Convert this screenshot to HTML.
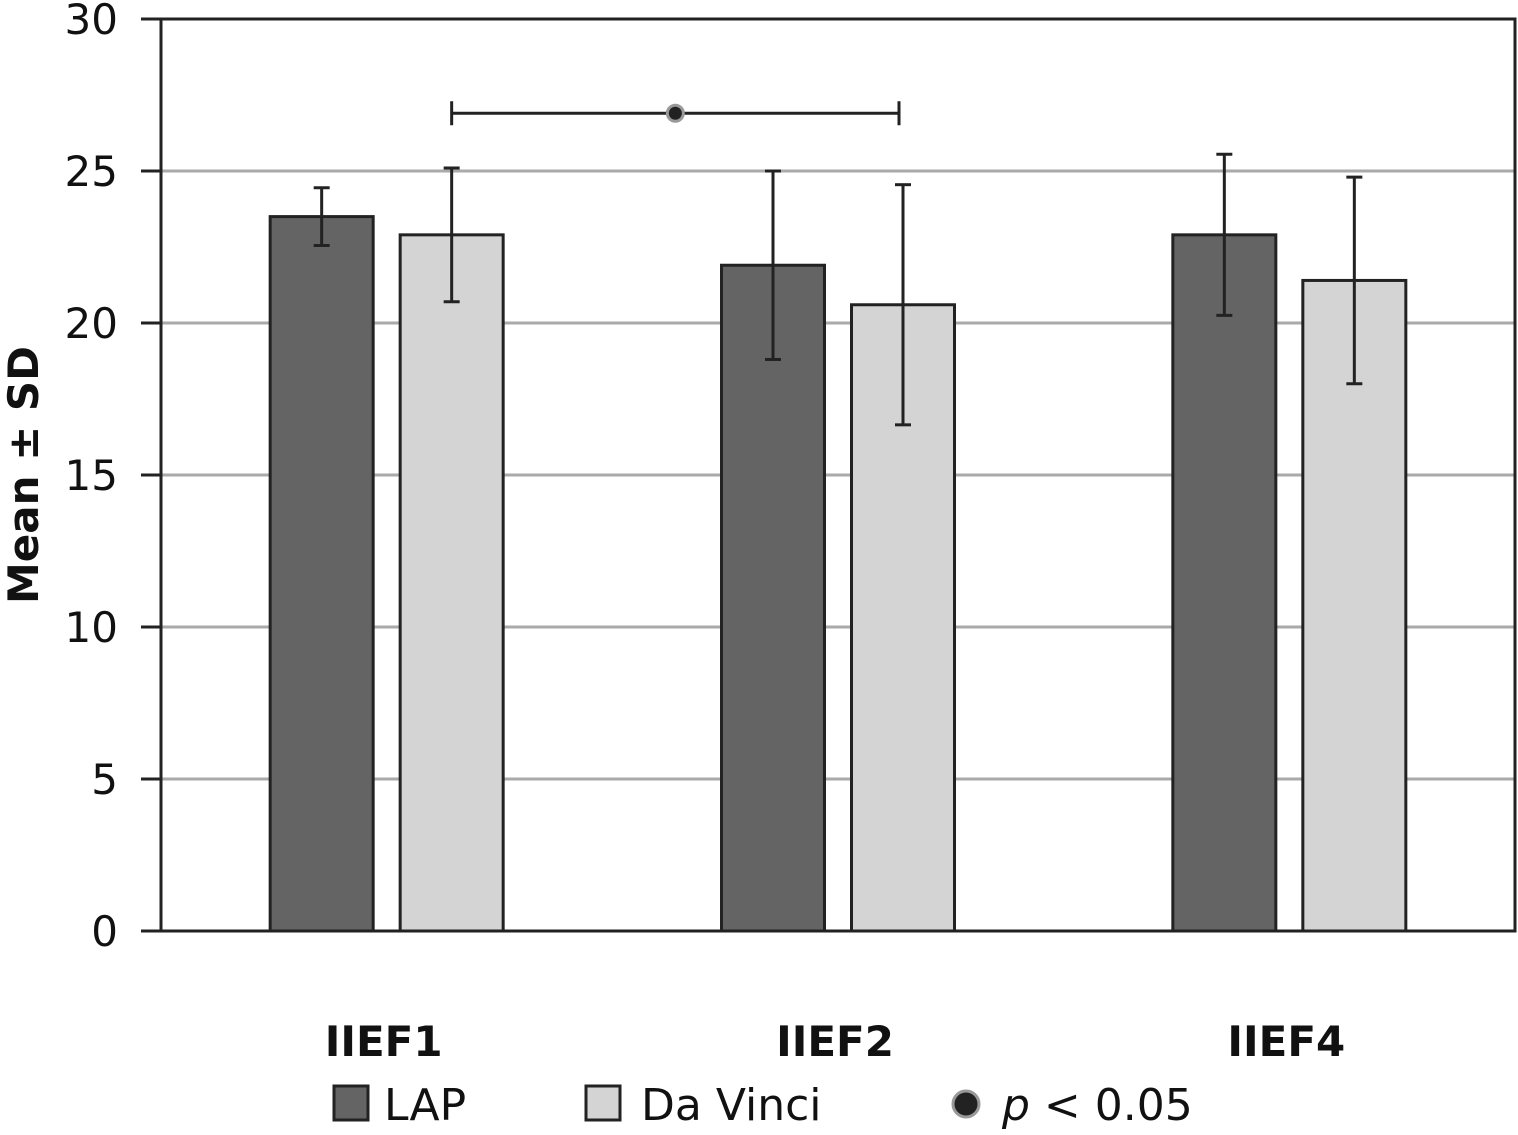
<!DOCTYPE html>
<html><head><meta charset="utf-8"><style>
html,body{margin:0;padding:0;background:#fff;}
svg{display:block;font-family:"DejaVu Sans","Liberation Sans",sans-serif;}
</style></head><body>
<svg id="chart" width="1518" height="1135" viewBox="0 0 1518 1135" xmlns="http://www.w3.org/2000/svg">
<g id="grid"></g>
<g id="bars"></g>
<g id="axes"></g>
<text transform="translate(38,475) rotate(-90)" text-anchor="middle" font-size="42" font-weight="bold" fill="#111">Mean ± SD</text>
<g>
 <g><rect x="334" y="1086" width="34" height="34" fill="#646464" stroke="#222" stroke-width="3"/><text x="384" y="1120" font-size="44" fill="#111">LAP</text></g>
 <g><rect x="586" y="1086" width="34" height="34" fill="#d4d4d4" stroke="#222" stroke-width="3"/><text x="641" y="1120" font-size="44" fill="#111">Da Vinci</text></g>
 <g><circle cx="966" cy="1104" r="13" fill="#222" stroke="#999" stroke-width="3"/><text x="1002" y="1120" font-size="44" fill="#111"><tspan font-style="italic">p</tspan> &lt; 0.05</text></g>
</g>
</svg>
<script>
const categories = ["IIEF1","IIEF2","IIEF4"];
const lapMean = [23.5, 21.9, 22.9];
const lapSD = [0.95, 3.1, 2.65];
const dvMean = [22.9, 20.6, 21.4];
const dvSD = [2.2, 3.95, 3.4];
const yTicks = [0,5,10,15,20,25,30];
const sigFrom = 0, sigTo = 1, sigY = 26.9;

const NS="http://www.w3.org/2000/svg";
const L=161,R=1515,T=19,B=931,ymax=30;
const y=v=>B-(v/ymax)*(B-T);
const bw=(R-L)/categories.length;
const cx=i=>L+bw*(i+0.5);
const barW=103, gap=27;
const lapX=i=>cx(i)-gap/2-barW, dvX=i=>cx(i)+gap/2;
function mk(tag,attrs,parent){const e=document.createElementNS(NS,tag);for(const k in attrs)e.setAttribute(k,attrs[k]);parent.appendChild(e);return e;}
const grid=document.getElementById('grid'),bars=document.getElementById('bars'),axes=document.getElementById('axes');
yTicks.forEach(t=>{
  if(t>0&&t<ymax){const g=mk('line',{x1:L,x2:R,y1:y(t),y2:y(t),stroke:'#aaa','stroke-width':3},grid);
  
  }
  const tk=mk('line',{x1:141,x2:L,y1:y(t),y2:y(t),stroke:'#222','stroke-width':3},axes);
  
  
  const tx=mk('text',{x:118,y:y(t)+15,'text-anchor':'end','font-size':42,fill:'#111'},axes);
  tx.textContent=t;
  
  
});
function errbar(x,m,s,name){
  const g=mk('g',{stroke:'#222','stroke-width':3},bars);
  
  
  mk('line',{x1:x,x2:x,y1:y(m+s),y2:y(m-s)},g);
  mk('line',{x1:x-8,x2:x+8,y1:y(m+s),y2:y(m+s)},g);
  mk('line',{x1:x-8,x2:x+8,y1:y(m-s),y2:y(m-s)},g);
}
categories.forEach((c,i)=>{
  const a=mk('rect',{x:lapX(i),y:y(lapMean[i]),width:barW,height:B-y(lapMean[i]),fill:'#646464',stroke:'#222','stroke-width':3},bars);
  
  
  const b=mk('rect',{x:dvX(i),y:y(dvMean[i]),width:barW,height:B-y(dvMean[i]),fill:'#d4d4d4',stroke:'#222','stroke-width':3},bars);
  
  
  errbar(lapX(i)+barW/2,lapMean[i],lapSD[i],'error-bar-lap-'+c.toLowerCase());
  errbar(dvX(i)+barW/2,dvMean[i],dvSD[i],'error-bar-da-vinci-'+c.toLowerCase());
  const t=mk('text',{x:cx(i)-3,y:1056,'text-anchor':'middle','font-size':42,'font-weight':'bold',fill:'#111'},axes);
  t.textContent=c;
  
  
});
// frame
const fr=mk('path',{d:`M${L},${T} H${R} V${B} H${L} Z`,fill:'none',stroke:'#222','stroke-width':3},axes);


// significance bracket
const sg=mk('g',{stroke:'#222','stroke-width':3},axes);


const x1=dvX(sigFrom)+barW/2, x2=dvX(sigTo)+barW/2-4;
mk('line',{x1:x1,x2:x2,y1:y(sigY),y2:y(sigY)},sg);
mk('line',{x1:x1,x2:x1,y1:y(sigY)-12,y2:y(sigY)+12},sg);
mk('line',{x1:x2,x2:x2,y1:y(sigY)-12,y2:y(sigY)+12},sg);
const dot=mk('circle',{cx:(x1+x2)/2,cy:y(sigY),r:8,fill:'#222',stroke:'#999','stroke-width':3},axes);


</script>
</body></html>
